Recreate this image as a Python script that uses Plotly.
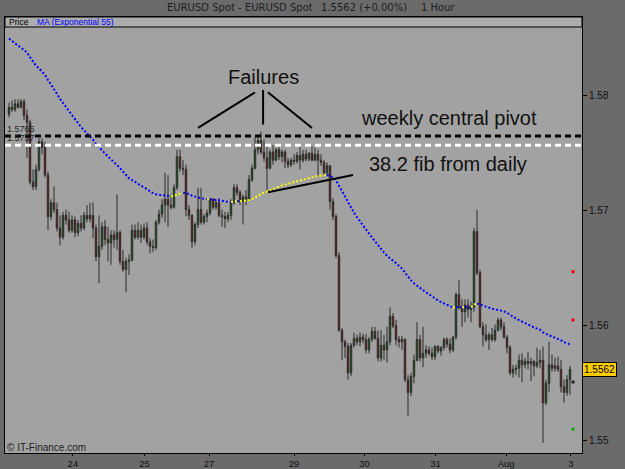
import plotly.graph_objects as go

# ---------------- data (EURUSD 1 hour) ----------------
opens = [1.5784,1.5790,1.5788,1.5793,1.5790,1.5795,1.5783,1.5777,1.5725,1.5721,
         1.5736,1.5760,1.5755,1.5731,1.5695,1.5707,1.5701,1.5685,1.5677,1.5696,
         1.5692,1.5683,1.5692,1.5681,1.5689,1.5685,1.5696,1.5693,1.5696,1.5685,
         1.5660,1.5669,1.5686,1.5675,1.5672,1.5679,1.5675,1.5681,1.5656,1.5649,
         1.5656,1.5657,1.5683,1.5677,1.5683,1.5677,1.5685,1.5673,1.5669,1.5668,
         1.5690,1.5697,1.5705,1.5710,1.5705,1.5703,1.5720,1.5747,1.5737,1.5736,
         1.5701,1.5696,1.5673,1.5688,1.5701,1.5690,1.5695,1.5698,1.5710,1.5703,
         1.5707,1.5696,1.5695,1.5693,1.5696,1.5707,1.5720,1.5716,1.5708,1.5712,
         1.5710,1.5727,1.5737,1.5753,1.5761,1.5751,1.5746,1.5737,1.5751,1.5744,
         1.5753,1.5747,1.5751,1.5743,1.5740,1.5744,1.5743,1.5748,1.5744,1.5749,
         1.5745,1.5750,1.5744,1.5749,1.5744,1.5742,1.5733,1.5739,1.5708,1.5695,
         1.5661,1.5596,1.5586,1.5582,1.5559,1.5583,1.5589,1.5586,1.5590,1.5588,
         1.5579,1.5588,1.5595,1.5589,1.5572,1.5583,1.5579,1.5586,1.5608,1.5600,
         1.5588,1.5586,1.5588,1.5553,1.5542,1.5556,1.5570,1.5588,1.5572,1.5576,
         1.5579,1.5576,1.5573,1.5582,1.5578,1.5581,1.5588,1.5584,1.5579,1.5590,
         1.5627,1.5616,1.5612,1.5618,1.5614,1.5616,1.5682,1.5646,1.5599,1.5592,
         1.5588,1.5592,1.5588,1.5596,1.5605,1.5599,1.5590,1.5581,1.5559,1.5562,
         1.5563,1.5570,1.5566,1.5569,1.5567,1.5569,1.5565,1.5568,1.5570,1.5533,
         1.5550,1.5566,1.5563,1.5565,1.5562,1.5547,1.5542,1.5553]
highs = [1.5794,1.5796,1.5797,1.5797,1.5797,1.5797,1.5788,1.5779,1.5736,1.5740,
         1.5763,1.5763,1.5760,1.5734,1.5710,1.5721,1.5707,1.5696,1.5699,1.5701,
         1.5699,1.5696,1.5695,1.5692,1.5696,1.5699,1.5705,1.5707,1.5707,1.5688,
         1.5696,1.5690,1.5692,1.5686,1.5683,1.5683,1.5714,1.5683,1.5666,1.5659,
         1.5662,1.5688,1.5688,1.5690,1.5688,1.5689,1.5690,1.5676,1.5675,1.5692,
         1.5701,1.5710,1.5733,1.5731,1.5714,1.5723,1.5753,1.5753,1.5744,1.5740,
         1.5705,1.5697,1.5690,1.5720,1.5720,1.5697,1.5701,1.5711,1.5711,1.5710,
         1.5711,1.5701,1.5699,1.5699,1.5710,1.5723,1.5723,1.5718,1.5714,1.5718,
         1.5731,1.5740,1.5764,1.5764,1.5769,1.5762,1.5757,1.5753,1.5757,1.5755,
         1.5756,1.5753,1.5753,1.5746,1.5746,1.5749,1.5751,1.5757,1.5753,1.5753,
         1.5751,1.5756,1.5755,1.5753,1.5749,1.5744,1.5742,1.5740,1.5711,1.5697,
         1.5664,1.5598,1.5588,1.5585,1.5585,1.5594,1.5592,1.5594,1.5593,1.5593,
         1.5590,1.5599,1.5599,1.5596,1.5596,1.5592,1.5599,1.5616,1.5611,1.5605,
         1.5591,1.5591,1.5589,1.5557,1.5559,1.5575,1.5603,1.5592,1.5599,1.5583,
         1.5582,1.5581,1.5583,1.5583,1.5582,1.5590,1.5590,1.5589,1.5591,1.5629,
         1.5640,1.5623,1.5623,1.5623,1.5621,1.5685,1.5701,1.5649,1.5603,1.5601,
         1.5594,1.5598,1.5601,1.5607,1.5607,1.5603,1.5592,1.5583,1.5566,1.5566,
         1.5575,1.5576,1.5572,1.5577,1.5572,1.5570,1.5581,1.5579,1.5582,1.5553,
         1.5586,1.5575,1.5572,1.5573,1.5570,1.5553,1.5557,1.5565]
lows = [1.5781,1.5786,1.5786,1.5789,1.5789,1.5779,1.5746,1.5723,1.5718,1.5718,
        1.5734,1.5749,1.5729,1.5683,1.5692,1.5698,1.5682,1.5670,1.5675,1.5688,
        1.5681,1.5681,1.5677,1.5678,1.5682,1.5683,1.5690,1.5690,1.5676,1.5656,
        1.5637,1.5666,1.5670,1.5656,1.5653,1.5668,1.5666,1.5653,1.5647,1.5629,
        1.5644,1.5656,1.5675,1.5675,1.5672,1.5675,1.5670,1.5663,1.5664,1.5666,
        1.5688,1.5694,1.5690,1.5686,1.5701,1.5702,1.5718,1.5734,1.5731,1.5695,
        1.5692,1.5668,1.5670,1.5685,1.5688,1.5688,1.5690,1.5696,1.5701,1.5701,
        1.5694,1.5686,1.5685,1.5690,1.5692,1.5705,1.5713,1.5705,1.5688,1.5705,
        1.5708,1.5725,1.5736,1.5749,1.5749,1.5743,1.5718,1.5736,1.5740,1.5743,
        1.5744,1.5742,1.5737,1.5737,1.5738,1.5740,1.5741,1.5736,1.5742,1.5743,
        1.5743,1.5743,1.5743,1.5730,1.5739,1.5730,1.5731,1.5701,1.5692,1.5659,
        1.5595,1.5570,1.5572,1.5553,1.5556,1.5581,1.5583,1.5582,1.5585,1.5576,
        1.5576,1.5586,1.5588,1.5569,1.5569,1.5570,1.5568,1.5583,1.5598,1.5583,
        1.5581,1.5579,1.5551,1.5522,1.5539,1.5550,1.5569,1.5569,1.5564,1.5572,
        1.5574,1.5570,1.5570,1.5576,1.5574,1.5579,1.5581,1.5576,1.5577,1.5588,
        1.5614,1.5599,1.5603,1.5607,1.5603,1.5612,1.5644,1.5598,1.5582,1.5586,
        1.5579,1.5586,1.5586,1.5595,1.5596,1.5589,1.5576,1.5557,1.5555,1.5557,
        1.5555,1.5551,1.5563,1.5562,1.5552,1.5556,1.5563,1.5563,1.5498,1.5531,
        1.5542,1.5560,1.5560,1.5560,1.5542,1.5533,1.5539,1.5540]
closes = [1.5790,1.5788,1.5793,1.5790,1.5795,1.5783,1.5777,1.5725,1.5721,1.5736,
          1.5760,1.5755,1.5731,1.5695,1.5707,1.5701,1.5685,1.5677,1.5696,1.5692,
          1.5683,1.5692,1.5681,1.5689,1.5685,1.5696,1.5693,1.5696,1.5685,1.5660,
          1.5669,1.5686,1.5675,1.5672,1.5679,1.5675,1.5681,1.5656,1.5649,1.5656,
          1.5657,1.5683,1.5677,1.5683,1.5677,1.5685,1.5673,1.5669,1.5668,1.5690,
          1.5697,1.5705,1.5710,1.5705,1.5703,1.5720,1.5747,1.5737,1.5736,1.5701,
          1.5696,1.5673,1.5688,1.5701,1.5690,1.5695,1.5698,1.5710,1.5703,1.5707,
          1.5696,1.5695,1.5693,1.5696,1.5707,1.5720,1.5716,1.5708,1.5712,1.5710,
          1.5727,1.5737,1.5753,1.5761,1.5751,1.5746,1.5737,1.5751,1.5744,1.5753,
          1.5747,1.5751,1.5743,1.5740,1.5744,1.5743,1.5748,1.5744,1.5749,1.5745,
          1.5750,1.5744,1.5749,1.5744,1.5742,1.5733,1.5739,1.5708,1.5695,1.5661,
          1.5596,1.5586,1.5582,1.5559,1.5583,1.5589,1.5586,1.5590,1.5588,1.5579,
          1.5588,1.5595,1.5589,1.5572,1.5583,1.5579,1.5586,1.5608,1.5600,1.5588,
          1.5586,1.5588,1.5553,1.5542,1.5556,1.5570,1.5588,1.5572,1.5576,1.5579,
          1.5576,1.5573,1.5582,1.5578,1.5581,1.5588,1.5584,1.5579,1.5590,1.5627,
          1.5616,1.5612,1.5618,1.5614,1.5616,1.5682,1.5646,1.5599,1.5592,1.5588,
          1.5592,1.5588,1.5596,1.5605,1.5599,1.5590,1.5581,1.5559,1.5562,1.5563,
          1.5570,1.5566,1.5569,1.5567,1.5569,1.5565,1.5568,1.5570,1.5533,1.5550,
          1.5566,1.5563,1.5565,1.5562,1.5547,1.5542,1.5553,1.5562]

ma_seed = 1.5852          # EMA(55) value before the first visible bar
ma_period = 55

day_ticks = [21.3, 45.2, 66.7, 95.0, 118.5, 142.2, 165.7, 187.3]
day_labels = ["24", "25", "27", "29", "30", "31", "Aug", "3"]
price_ticks = [1.55, 1.56, 1.57, 1.58]

pivot_weekly = 1.5765
pivot_white = 1.5757
last_price = 1.5562

side_levels = [1.5647, 1.5605, 1.5551, 1.5510]
side_colors = ["#ff0000", "#ff0000", "#222222", "#00aa00"]

# ---------------- figure ----------------
n = len(closes)
idx = list(range(n))

fig = go.Figure()
fig.add_trace(go.Candlestick(
    x=idx, open=opens, high=highs, low=lows, close=closes,
    increasing=dict(line=dict(color="#2a2a2a", width=1), fillcolor="#008000"),
    decreasing=dict(line=dict(color="#2a2a2a", width=1), fillcolor="#b00000"),
    whiskerwidth=0, hoverinfo="skip"))

# EMA 55
alpha = 2.0 / (ma_period + 1)
ema = []
prev = ma_seed
for c in closes:
    prev = prev + alpha * (c - prev)
    ema.append(prev)

runs = []
start = 0
cur = ema[1] > ema[0]
for i in range(1, n):
    r = ema[i] > ema[i - 1]
    if r != cur:
        runs.append((start, i - 1, cur))
        start = i - 1
        cur = r
runs.append((start, n - 1, cur))
for s, e, rising in runs:
    fig.add_trace(go.Scatter(
        x=idx[s:e + 1], y=ema[s:e + 1], mode="lines",
        line=dict(color="#ffff00" if rising else "#0000ff", width=2, dash="2px,2px"),
        hoverinfo="skip"))

fig.add_trace(go.Scatter(
    x=[188] * len(side_levels), y=side_levels, mode="markers",
    marker=dict(symbol="square", size=3, color=side_colors, line=dict(width=0)),
    hoverinfo="skip"))

W, H = 625, 469
ml, mr, mt, mb = 5, 43, 17, 16
pw, ph = W - ml - mr, H - mt - mb

def px(xp):
    return (xp - ml) / pw

def py(yp):
    return (H - mb - yp) / ph

shapes = [
    # legend strip
    dict(type="rect", xref="paper", yref="paper", x0=0, x1=1, y0=py(27), y1=1,
         fillcolor="#acacac", line=dict(color="#000000", width=1), layer="above"),
    # pivot lines
    dict(type="line", xref="paper", yref="y", x0=0, x1=1, y0=pivot_weekly, y1=pivot_weekly,
         line=dict(color="#000000", width=3, dash="6px,4px"), layer="above"),
    dict(type="line", xref="paper", yref="y", x0=0, x1=1, y0=pivot_white, y1=pivot_white,
         line=dict(color="#ffffff", width=3, dash="6px,4px"), layer="above"),
    # trend line
    dict(type="line", xref="x", yref="y", x0=86.3, y0=1.5716, x1=114.7, y1=1.5731,
         line=dict(color="#000000", width=2), layer="above"),
    # failures pointers
    dict(type="line", xref="x", yref="y", x0=63.0, y0=1.5772, x1=82.0, y1=1.5803,
         line=dict(color="#000000", width=2), layer="above"),
    dict(type="line", xref="x", yref="y", x0=84.7, y0=1.5805, x1=84.7, y1=1.5775,
         line=dict(color="#000000", width=2), layer="above"),
    dict(type="line", xref="x", yref="y", x0=86.3, y0=1.5803, x1=101.0, y1=1.5772,
         line=dict(color="#000000", width=2), layer="above"),
]

ann = []
tfont = dict(family="DejaVu Sans", size=10, color="#1e1e1e")
ann.append(dict(xref="paper", yref="paper", x=px(165), y=py(8), xanchor="left", yanchor="middle",
                text="EURUSD Spot - EURUSD Spot", showarrow=False, font=tfont))
ann.append(dict(xref="paper", yref="paper", x=px(319), y=py(8), xanchor="left", yanchor="middle",
                text="1.5562 (+0.00%)", showarrow=False, font=tfont))
ann.append(dict(xref="paper", yref="paper", x=px(419), y=py(8), xanchor="left", yanchor="middle",
                text="1 Hour", showarrow=False, font=tfont))
lfont = dict(family="Liberation Sans", size=8.5, color="#000000")
ann.append(dict(xref="paper", yref="paper", x=px(7), y=py(22), xanchor="left", yanchor="middle",
                text="Price", showarrow=False, font=lfont))
ann.append(dict(xref="paper", yref="paper", x=px(35), y=py(22), xanchor="left", yanchor="middle",
                text="MA (Exponential 55)", showarrow=False,
                font=dict(family="Liberation Sans", size=8.5, color="#0000ff")))
ann.append(dict(xref="paper", yref="paper", x=px(5), y=py(447), xanchor="left", yanchor="middle",
                text="© IT-Finance.com", showarrow=False,
                font=dict(family="Liberation Sans", size=10, color="#1e1e1e")))
ann.append(dict(xref="paper", yref="y", x=px(5), y=pivot_weekly, xanchor="left", yanchor="bottom",
                text="1.5765", showarrow=False, yshift=0,
                font=dict(family="Liberation Sans", size=9, color="#222222")))
ann.append(dict(xref="paper", yref="y", x=px(5), y=pivot_white, xanchor="left", yanchor="bottom",
                text="1.5757", showarrow=False, yshift=0,
                font=dict(family="Liberation Sans", size=9, color="#222222")))
bigfont = dict(family="Liberation Sans", size=20, color="#111111")
ann.append(dict(xref="x", yref="y", x=84.7, y=1.58165, text="Failures", showarrow=False,
                xanchor="center", yanchor="middle", font=bigfont))
ann.append(dict(xref="x", yref="y", x=146.5, y=1.57809, text="weekly central pivot", showarrow=False,
                xanchor="center", yanchor="middle", font=bigfont))
ann.append(dict(xref="x", yref="y", x=146.2, y=1.57408, text="38.2 fib from daily", showarrow=False,
                xanchor="center", yanchor="middle", font=bigfont))
ann.append(dict(xref="paper", yref="y", x=1, y=last_price, xanchor="left", yanchor="middle",
                text="1.5562", showarrow=False, bgcolor="#ffcc00", bordercolor="#000000",
                borderwidth=1, borderpad=1,
                font=dict(family="Liberation Sans", size=10, color="#000000")))

fig.update_layout(
    width=W, height=H, margin=dict(l=ml, r=mr, t=mt, b=mb, pad=0, autoexpand=False),
    paper_bgcolor="#6b6b6b", plot_bgcolor="#a2a2a2", showlegend=False,
    shapes=shapes, annotations=ann,
    xaxis=dict(range=[-1.333, 191], tickvals=day_ticks, ticktext=day_labels,
               ticks="outside", ticklen=2, tickcolor="#000000", showgrid=False,
               zeroline=False, showline=True, linecolor="#000000", linewidth=1, mirror=True,
               rangeslider=dict(visible=False), fixedrange=True, automargin=False,
               tickfont=dict(family="Liberation Sans", size=9.5, color="#111111")),
    yaxis=dict(range=[1.54893, 1.58685], side="right", tickvals=price_ticks,
               ticktext=["1.55", "1.56", "1.57", "1.58"],
               ticks="outside", ticklen=4, tickcolor="#000000", showgrid=False,
               zeroline=False, showline=True, linecolor="#000000", linewidth=1, mirror=True,
               fixedrange=True, automargin=False,
               tickfont=dict(family="Liberation Sans", size=10, color="#111111")),
)

fig.write_html("out.html")
